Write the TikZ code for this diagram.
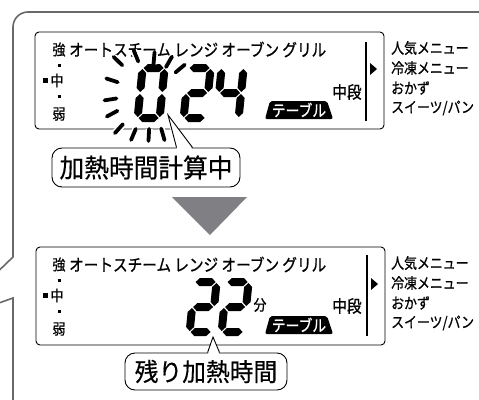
\documentclass[tikz,border=0pt]{standalone}
\usepackage{fontspec}
\setmainfont{Noto Sans CJK JP}
\newfontfamily\lcdfont{Noto Sans CJK JP}[FakeStretch=0.86, FakeBold=0.8]
\newfontfamily\notefont{Noto Sans CJK JP}[FakeStretch=0.95, FakeBold=0.4]
\usetikzlibrary{calc}
\definecolor{framegray}{RGB}{105,105,105}
\definecolor{arrowgray}{RGB}{128,128,132}
% seven-segment pieces, local y runs downwards
\newcommand\hseg[3]{\fill (#1+1,#3) -- (#1+5,#3-4) -- (#2-5,#3-4) -- (#2-1,#3) -- (#2-5,#3+4) -- (#1+5,#3+4) -- cycle;}
\newcommand\vseg[3]{\fill (#1,#2+1) -- (#1+4,#2+5) -- (#1+4,#3-5) -- (#1,#3-1) -- (#1-4,#3-5) -- (#1-4,#2+5) -- cycle;}
\newcommand\sega{\hseg{4}{26}{4}}
\newcommand\segb{\vseg{26}{4}{29}}
\newcommand\segc{\vseg{26}{29}{54}}
\newcommand\segd{\hseg{4}{26}{54}}
\newcommand\sege{\vseg{4}{29}{54}}
\newcommand\segf{\vseg{4}{4}{29}}
\newcommand\segg{\hseg{4}{26}{29}}
\newcommand\lcdnum[3]{\begin{scope}[shift={(#1,#2)}, xslant=0.1]\foreach \s in {#3}{\csname seg\s\endcsname}\end{scope}}
\begin{document}
\begin{tikzpicture}[
    x=1pt, y=-1pt,
    frame/.style={draw=framegray, line width=1.6pt},
    lcd/.style={draw, rounded corners=4pt, line width=0.9pt, minimum width=349pt,
                minimum height=97pt, inner sep=0pt},
    row/.style={anchor=west, font=\lcdfont\fontsize{17}{17}\selectfont, inner sep=0pt},
    level/.style={font=\lcdfont\fontsize{15}{15}\selectfont, inner sep=0pt},
    menu/.style={anchor=west, font=\lcdfont\fontsize{15}{15}\selectfont, inner sep=0pt},
    tier/.style={font=\lcdfont\fontsize{17}{17}\selectfont, inner sep=0pt},
    tag/.style={text=white, font=\lcdfont\fontsize{16}{16}\selectfont, inner sep=0pt},
    callout/.style={draw, fill=white, rounded corners=10pt, line width=0.9pt, inner sep=0pt},
    pip/.style={fill, minimum size=3pt, inner sep=0pt},
    ray/.style={line width=3.8pt, line cap=round, preaction={draw=white, line width=7pt}}]
  \useasboundingbox (0,0) rectangle (479,399);
  % outer frame, cut off at the edges
  \draw[frame, rounded corners=15pt] (480,12) -- (13,12) -- (13,150);
  \draw[frame] (13,140) -- (13,257) -- (-1,270.5);
  \draw[frame] (-1,303) -- (13,298) -- (13,400);
  % top panel
  \node[lcd] (lcdA) at (209.5,80.5) {};
  \node[level] (strongA) at (59,49.5) {強};
  \node[row] (modesA) at (69,49.5) {オートスチーム レンジ オーブン グリル};
  \node[pip] (pipA1) at (59,65.5) {};
  \node[pip, minimum size=4.5pt] (markA) at (45.5,80.5) {};
  \node[level] (midA) at (57,80.5) {中};
  \node[pip] (pipA2) at (59,96.5) {};
  \node[level] (weakA) at (59,114) {弱};
  \lcdnum{139}{64}{a,b,c,d,e,f}
  \lcdnum{185}{64}{a,b,g,e,d}
  \lcdnum{218}{64}{f,g,b,c}
  \coordinate (flashA) at (151,93);
  \foreach \a/\r in {40/38, 60/36, 85/35, 112/40, 136/46, 162/41, 189/41, 208/44, 228/48,
                     247/45, 267/42, 286/43, 303/46}
    \draw[ray] ($(flashA)+(-\a:\r-6)$) -- ($(flashA)+(-\a:\r+6)$);
  \fill[rounded corners=2pt] (270,101) -- (327,101) -- (333,119) -- (265,119) -- cycle;
  \node[tag] (tagA) at (299,110) {テーブル};
  \node[tier] (tierA) at (347,92) {中段};
  \draw[line width=1.6pt] (366,42) -- (366,121);
  \fill (370,63) -- (377,69) -- (370,75) -- cycle;
  \node[menu] (menuA1) at (391,48) {人気メニュー};
  \node[menu] (menuA2) at (391,68) {冷凍メニュー};
  \node[menu] (menuA3) at (391,88) {おかず};
  \node[menu] (menuA4) at (391,108) {スイーツ/パン};
  % callout of the top panel
  \node[callout, minimum width=188pt, minimum height=39pt,
        font=\notefont\fontsize{26}{26}\selectfont] (noteA) at (146,167.5) {加熱時間計算中};
  \coordinate (tipA) at (168,115);
  \fill[white] ($(noteA.north west)+(125.5,1.5)$) -- (tipA) -- ($(noteA.north west)+(140.5,1.5)$) -- cycle;
  \draw[line width=0.9pt] ($(noteA.north west)+(125,0)$) -- (tipA) -- ($(noteA.north west)+(141,0)$);
  % arrow down
  \fill[arrowgray] (172,197) -- (247,197) -- (210,235) -- cycle;
  % bottom panel
  \node[lcd, minimum height=98pt] (lcdB) at (210.5,296) {};
  \node[level] (strongB) at (59,264.5) {強};
  \node[row] (modesB) at (69,264.5) {オートスチーム レンジ オーブン グリル};
  \node[pip] (pipB1) at (59,280.5) {};
  \node[pip, minimum size=4.5pt] (markB) at (45.5,295.5) {};
  \node[level] (midB) at (57,295.5) {中};
  \node[pip] (pipB2) at (59,311.5) {};
  \node[level] (weakB) at (59,329) {弱};
  \lcdnum{191}{278}{a,b,g,e,d}
  \lcdnum{223}{278}{a,b,g,e,d}
  \node[level] (unitB) at (260,305) {分};
  \fill[rounded corners=2pt] (270,316) -- (327,316) -- (333,334) -- (265,334) -- cycle;
  \node[tag] (tagB) at (299,325) {テーブル};
  \node[tier] (tierB) at (347,306) {中段};
  \draw[line width=1.6pt] (367,255) -- (367,336);
  \fill (371,278) -- (378,284) -- (371,290) -- cycle;
  \node[menu] (menuB1) at (391,263) {人気メニュー};
  \node[menu] (menuB2) at (391,283) {冷凍メニュー};
  \node[menu] (menuB3) at (391,303) {おかず};
  \node[menu] (menuB4) at (391,323) {スイーツ/パン};
  % callout of the bottom panel
  \node[callout, minimum width=162pt, minimum height=37pt,
        font=\notefont\fontsize{25}{25}\selectfont] (noteB) at (206,371.5) {残り加熱時間};
  \coordinate (tipB) at (213,337);
  \fill[white] ($(noteB.north west)+(83.5,1.5)$) -- (tipB) -- ($(noteB.north west)+(94.5,1.5)$) -- cycle;
  \draw[line width=0.9pt] ($(noteB.north west)+(83,0)$) -- (tipB) -- ($(noteB.north west)+(95,0)$);
\end{tikzpicture}
\end{document}
